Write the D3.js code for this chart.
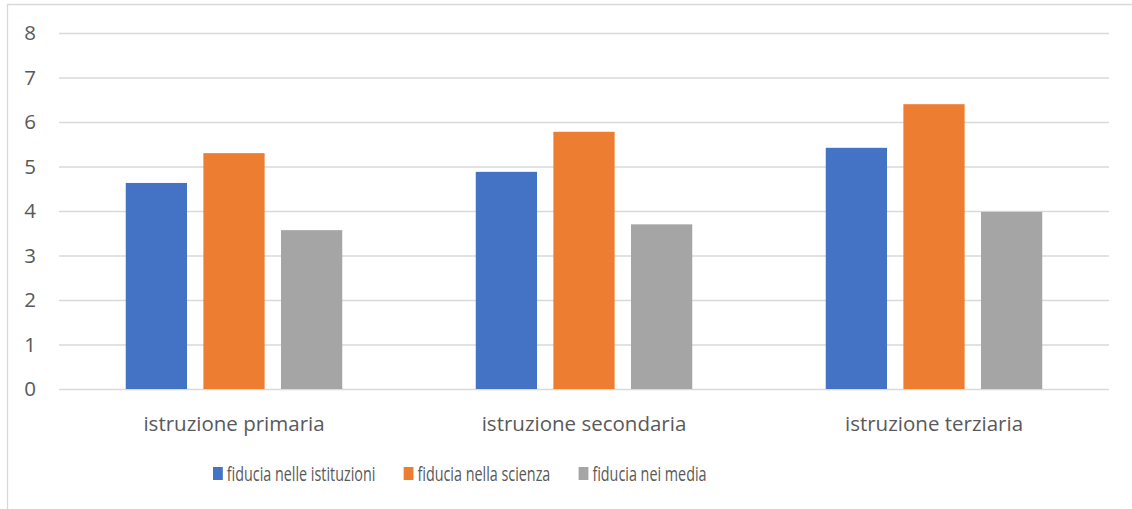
<!DOCTYPE html>
<html>
<head>
<meta charset="utf-8">
<script src="https://cdn.jsdelivr.net/npm/d3@7"></script>
<style>
  html, body { margin: 0; padding: 0; background: #ffffff; }
  svg { display: block; }
  text { font-family: "Open Sans", sans-serif; fill: #595959; }
</style>
</head>
<body>
<svg id="chart" width="1132" height="509"></svg>
<script>
// Education levels on the x axis
const categories = ["istruzione primaria", "istruzione secondaria", "istruzione terziaria"];

// Trust series (one value per education level)
const seriesNames = ["fiducia nelle istituzioni", "fiducia nella scienza", "fiducia nei media"];
const fiduciaIstituzioni = [4.63, 4.88, 5.42];
const fiduciaScienza = [5.30, 5.78, 6.40];
const fiduciaMedia = [3.57, 3.70, 3.98];

// Y axis ticks
const yTicks = [0, 1, 2, 3, 4, 5, 6, 7, 8];

const seriesValues = [fiduciaIstituzioni, fiduciaScienza, fiduciaMedia];
const colors = ["#4472C4", "#ED7D31", "#A5A5A5"];

const svg = d3.select("#chart");
const W = 1132, H = 509;
const plot = { left: 59, right: 1109, top: 33, bottom: 389 };

// Outer chart frame (left and top edges visible)
svg.append("path")
  .attr("d", `M7.5,${H} V4.5 H${W}`)
  .attr("fill", "none")
  .attr("stroke", "#d9d9d9")
  .attr("stroke-width", 1.3);

const y = d3.scaleLinear().domain([0, 8]).range([plot.bottom, plot.top]);
const x0 = d3.scaleBand().domain(categories).range([plot.left, plot.right]).paddingInner(0).paddingOuter(0);
const x1 = d3.scaleBand().domain(seriesNames).range([0, x0.bandwidth()])
  .paddingInner(0.211).paddingOuter(0.86);

// Gridlines + y tick labels
const yAxis = d3.axisLeft(y)
  .tickValues(yTicks)
  .tickSize(-(plot.right - plot.left))
  .tickPadding(23)
  .tickFormat(d3.format("d"));

const gy = svg.append("g")
  .attr("transform", `translate(${plot.left},0)`)
  .call(yAxis);
gy.select(".domain").remove();
gy.selectAll(".tick line").attr("stroke", "#d9d9d9").attr("stroke-width", 1.3);
gy.selectAll(".tick text")
  .attr("fill", "#595959")
  .style("font-size", "20.5px")
  .style("font-family", "'Open Sans', sans-serif");

// Bars
const groups = svg.append("g").selectAll("g")
  .data(categories)
  .join("g")
  .attr("transform", d => `translate(${x0(d)},0)`);

groups.selectAll("rect")
  .data((c, ci) => seriesNames.map((s, si) => ({ s, v: seriesValues[si][ci], color: colors[si] })))
  .join("rect")
  .attr("x", d => x1(d.s))
  .attr("width", x1.bandwidth())
  .attr("y", d => y(d.v))
  .attr("height", d => y(0) - y(d.v))
  .attr("fill", d => d.color);

// Category axis
const xAxis = d3.axisBottom(x0).tickSize(0).tickPadding(27);
const gx = svg.append("g")
  .attr("transform", `translate(0,${plot.bottom})`)
  .call(xAxis);
gx.select(".domain").remove();
gx.selectAll(".tick text")
  .attr("fill", "#595959")
  .style("font-size", "20.5px")
  .style("font-family", "'Open Sans', sans-serif");

// Legend (horizontally condensed)
const legend = svg.append("g")
  .attr("transform", "translate(213,0) scale(0.7,1)");
let lx = 0;
const sqW = 14, sqH = 13, legendY = 474;
seriesNames.forEach((name, i) => {
  legend.append("rect")
    .attr("x", lx).attr("y", legendY - sqH / 2 - 0.5)
    .attr("width", sqW).attr("height", sqH)
    .attr("fill", colors[i]);
  const t = legend.append("text")
    .attr("x", lx + sqW + 5.7)
    .attr("y", legendY)
    .attr("dy", "0.35em")
    .style("font-size", "20.5px")
    .text(name);
  lx += sqW + 5.7 + t.node().getComputedTextLength() + 40.4;
});
</script>
</body>
</html>
